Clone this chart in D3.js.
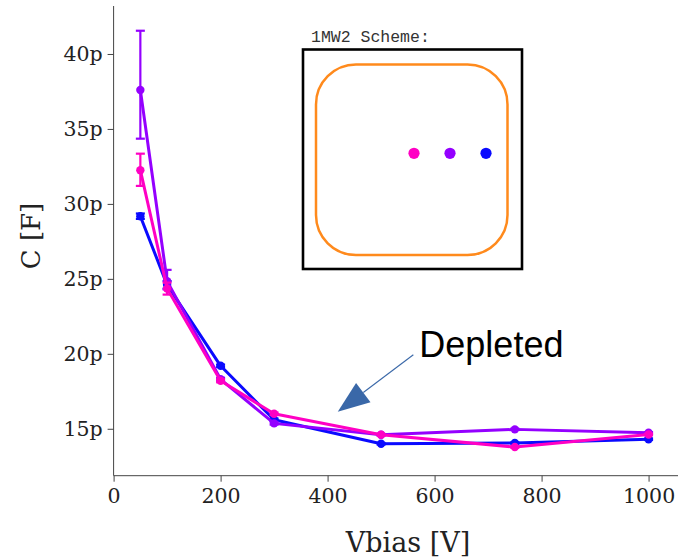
<!DOCTYPE html>
<html>
<head>
<meta charset="utf-8">
<script src="https://cdn.jsdelivr.net/npm/d3@7"></script>
<style>
  html, body { margin: 0; padding: 0; background: #fff; }
  svg { display: block; }
</style>
</head>
<body>
<svg id="chart" width="678" height="558"></svg>
<script>
// Bias voltages (V)
const vbias = [50, 100, 200, 300, 500, 750, 1000];

// Capacitance per pad (pF) with lower / upper error
const seriesNames = ["blue", "purple", "magenta"];
const seriesColors = ["#0a0aff", "#9400ff", "#ff00c4"];
const capBlue    = [29.18, 24.6, 19.2, 15.6, 14.0, 14.05, 14.3];
const capPurple  = [37.6, 24.85, 18.3, 15.36, 14.6, 14.96, 14.73];
const capMagenta = [32.25, 24.35, 18.2, 16.0, 14.6, 13.78, 14.62];
const errBlueLo    = [0.18, 0.25, 0.08, 0.08, 0.05, 0.05, 0.05];
const errBlueHi    = [0.18, 0.25, 0.08, 0.08, 0.05, 0.05, 0.05];
const errPurpleLo  = [3.25, 0.55, 0.1, 0.08, 0.05, 0.05, 0.05];
const errPurpleHi  = [3.95, 0.75, 0.1, 0.08, 0.05, 0.05, 0.05];
const errMagentaLo = [1.05, 0.4, 0.1, 0.08, 0.05, 0.05, 0.05];
const errMagentaHi = [1.1, 0.4, 0.1, 0.08, 0.05, 0.05, 0.05];

const xTicks = [0, 200, 400, 600, 800, 1000];
const yTicks = [15, 20, 25, 30, 35, 40];

const series = [
  { name: seriesNames[0], color: seriesColors[0], values: capBlue,    lo: errBlueLo,    hi: errBlueHi },
  { name: seriesNames[1], color: seriesColors[1], values: capPurple,  lo: errPurpleLo,  hi: errPurpleHi },
  { name: seriesNames[2], color: seriesColors[2], values: capMagenta, lo: errMagentaLo, hi: errMagentaHi }
];

const svg = d3.select("#chart");

const x = d3.scaleLinear().domain([0, 1055]).range([113.6, 678]);
const y = d3.scaleLinear().domain([11.87, 43.2]).range([475.7, 6]);

const axisColor = "#444";
const serif = "'DejaVu Serif', serif";

// X axis (bottom spine only)
const gx = svg.append("g")
  .attr("transform", `translate(0,${y.range()[0]})`)
  .call(d3.axisBottom(x).tickValues(xTicks).tickSize(6).tickPadding(7).tickFormat(d3.format("d")));
gx.select(".domain").attr("stroke", axisColor).attr("d", `M${x.range()[0]},0H${x.range()[1]}`);
gx.selectAll(".tick line").attr("stroke", axisColor);
gx.selectAll(".tick text")
  .attr("fill", "#222")
  .style("font-family", serif)
  .style("font-size", "20.5px");

// Y axis (left spine only)
const gy = svg.append("g")
  .attr("transform", `translate(${x.range()[0]},0)`)
  .call(d3.axisLeft(y).tickValues(yTicks).tickSize(6).tickPadding(5).tickFormat(d => d + "p"));
gy.select(".domain").attr("stroke", axisColor).attr("d", `M0,${y.range()[0]}V${y.range()[1]}`);
gy.selectAll(".tick line").attr("stroke", axisColor);
gy.selectAll(".tick text")
  .attr("fill", "#222")
  .style("font-family", serif)
  .style("font-size", "20.5px");

// Axis titles
svg.append("text")
  .attr("x", 408).attr("y", 551.7)
  .attr("text-anchor", "middle")
  .attr("fill", "#222")
  .style("font-family", serif)
  .style("font-size", "27px")
  .text("Vbias [V]");

svg.append("text")
  .attr("transform", "translate(40,236) rotate(-90)")
  .attr("text-anchor", "middle")
  .attr("fill", "#222")
  .style("font-family", serif)
  .style("font-size", "26px")
  .text("C [F]");

// Series: lines, error bars, markers
const line = d3.line().x((d, i) => x(vbias[i])).y(d => y(d));

series.forEach(s => {
  const g = svg.append("g").attr("class", "series-" + s.name);
  g.append("path")
    .datum(s.values)
    .attr("d", line)
    .attr("fill", "none")
    .attr("stroke", s.color)
    .attr("stroke-width", 3)
    .attr("stroke-linejoin", "round");

  const eb = g.selectAll(".err").data(s.values).enter().append("g").attr("class", "err");
  eb.append("line")
    .attr("x1", (d, i) => x(vbias[i])).attr("x2", (d, i) => x(vbias[i]))
    .attr("y1", (d, i) => y(d - s.lo[i])).attr("y2", (d, i) => y(d + s.hi[i]))
    .attr("stroke", s.color).attr("stroke-width", 2.2);
  [(d, i) => y(d - s.lo[i]), (d, i) => y(d + s.hi[i])].forEach(fy => {
    eb.append("line")
      .attr("x1", (d, i) => x(vbias[i]) - 4.5).attr("x2", (d, i) => x(vbias[i]) + 4.5)
      .attr("y1", fy).attr("y2", fy)
      .attr("stroke", s.color).attr("stroke-width", 2.2);
  });

  g.selectAll("circle").data(s.values).enter().append("circle")
    .attr("cx", (d, i) => x(vbias[i]))
    .attr("cy", d => y(d))
    .attr("r", 4.2)
    .attr("fill", s.color);
});

// Depletion annotation
const tip = [x(419), y(16.13)];
const txt = [x(571.5), y(19.8)];
const arrowColor = "#3a68a8";
svg.append("text")
  .attr("x", txt[0]).attr("y", txt[1])
  .attr("fill", "#000")
  .style("font-family", "'Liberation Sans', Arial, sans-serif")
  .style("font-size", "36px")
  .text("Depleted");
const start = [txt[0] - 6, txt[1] - 2];
const dx = tip[0] - start[0], dy = tip[1] - start[1];
const len = Math.hypot(dx, dy), ux = dx / len, uy = dy / len;
const headLen = 32, headHalf = 12;
const base = [tip[0] - ux * headLen, tip[1] - uy * headLen];
svg.append("line")
  .attr("x1", start[0]).attr("y1", start[1])
  .attr("x2", base[0]).attr("y2", base[1])
  .attr("stroke", arrowColor).attr("stroke-width", 1.1);
svg.append("path")
  .attr("d", `M${tip[0]},${tip[1]}L${base[0] - uy * headHalf},${base[1] + ux * headHalf}L${base[0] + uy * headHalf},${base[1] - ux * headHalf}Z`)
  .attr("fill", arrowColor);

// Pad layout scheme inset
const inset = svg.append("g").attr("class", "scheme");
inset.append("text")
  .attr("x", 311).attr("y", 42)
  .attr("fill", "#333")
  .style("font-family", "'Liberation Mono', 'Courier New', monospace")
  .style("font-size", "16.5px")
  .text("1MW2 Scheme:");
inset.append("rect")
  .attr("x", 303).attr("y", 49.5).attr("width", 219).attr("height", 219.5)
  .attr("fill", "none").attr("stroke", "#000").attr("stroke-width", 2.6);
inset.append("rect")
  .attr("x", 316).attr("y", 64.5).attr("width", 191.5).attr("height", 190.5)
  .attr("rx", 40).attr("ry", 40)
  .attr("fill", "none").attr("stroke", "#ff8a1c").attr("stroke-width", 2.5);
const padOrder = [2, 1, 0];
inset.selectAll(".pad").data(padOrder).enter().append("circle")
  .attr("class", "pad")
  .attr("cx", (d, i) => 414 + i * 36)
  .attr("cy", 153.3)
  .attr("r", 5.6)
  .attr("fill", d => seriesColors[d]);
</script>
</body>
</html>
